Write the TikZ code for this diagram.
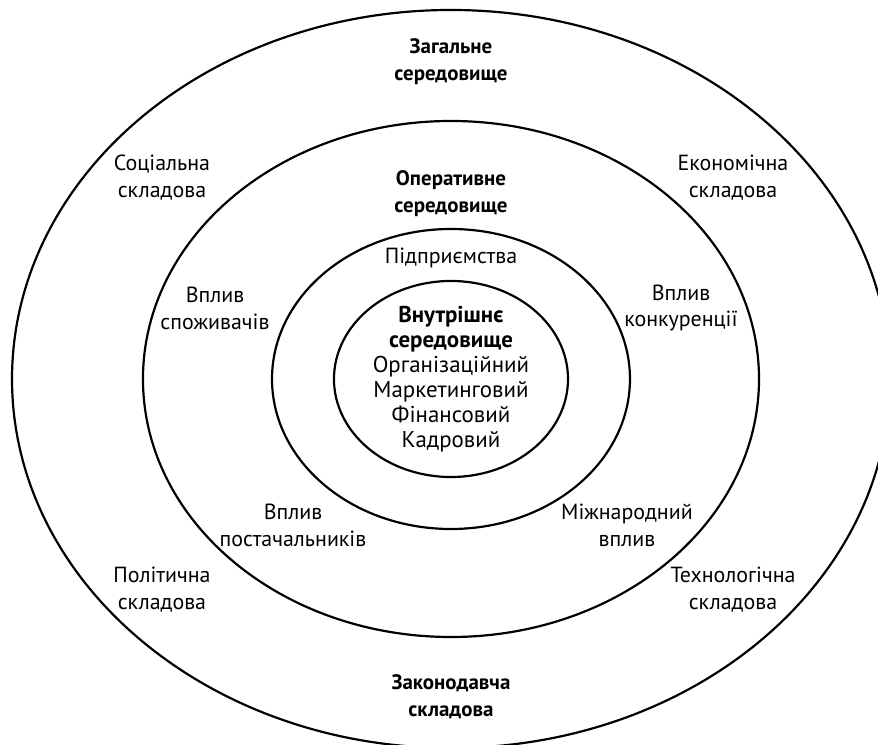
\documentclass[tikz,border=0pt]{standalone}
\usepackage{fontspec}
\setmainfont{PT Sans}
\usepackage{tikz}

\begin{document}
\begin{tikzpicture}[line width=1.1pt,
    lbl/.style={align=center, inner sep=1pt, font=\fontsize{11}{13.5}\selectfont},
    hd/.style={lbl, font=\fontsize{10.5}{13.5}\selectfont\bfseries}]
    \useasboundingbox (-7.955,-6.456) rectangle (7.532,6.685);
    \clip (-7.955,-6.456) rectangle (7.532,6.685);

    % Environment layers
    \coordinate (c) at (0,0);
    \draw (c) ellipse [x radius=7.743, y radius=6.509];
    \draw (c) ellipse [x radius=5.433, y radius=4.551];
    \draw (c) ellipse [x radius=3.157, y radius=2.646];
    \draw (c) ellipse [x radius=2.064, y radius=1.729];

    % Outer ring
    \node (general) at (0,5.592) [hd] {Загальне\\середовище};
    \node (social) at (-5.098,3.545) [lbl] {Соціальна\\складова};
    \node (economic) at (4.974,3.545) [lbl] {Економічна\\складова};
    \node (political) at (-5.098,-3.722) [lbl] {Політична\\складова};
    \node (techno) at (4.974,-3.722) [lbl] {Технологічна\\складова};
    \node (legal) at (0,-5.609) [hd] {Законодавча\\складова};

    % Operative ring
    \node (operative) at (0,3.263) [hd] {Оперативне\\середовище};
    \node (consumers) at (-4.163,1.252) [lbl] {Вплив\\споживачів};
    \node (rivals) at (4.057,1.252) [lbl] {Вплив\\конкуренції};
    \node (suppliers) at (-2.787,-2.575) [lbl] {Вплив\\постачальників};
    \node (global) at (3.104,-2.575) [lbl] {Міжнародний\\вплив};

    % Enterprise and inner core
    \node (firm) at (0,2.134) [lbl] {Підприємства};
    \node (inner) at (0,0) [lbl, font=\fontsize{11.5}{12.5}\selectfont]
        {\textbf{Внутрішнє}\\\textbf{середовище}\\Організаційний\\Маркетинговий\\Фінансовий\\Кадровий};
\end{tikzpicture}
\end{document}
